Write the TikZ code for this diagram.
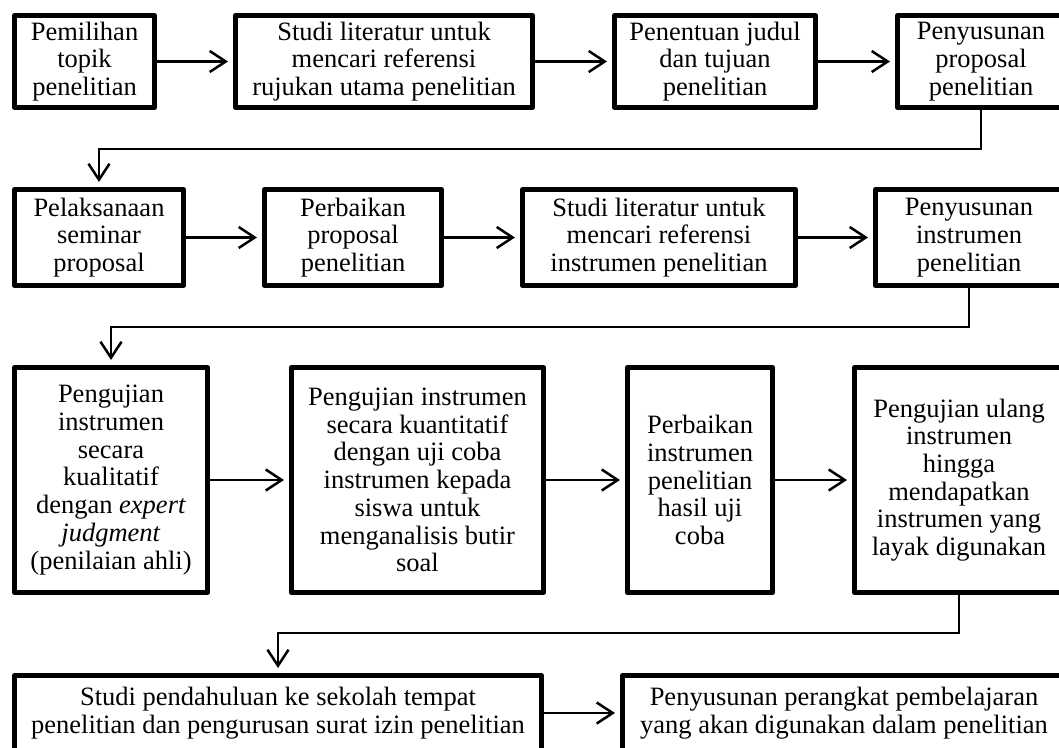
\documentclass[tikz,border=0pt]{standalone}
\usepackage{fontspec}
\setmainfont{Liberation Serif}
\usetikzlibrary{arrows.meta}
\tikzset{
	kotak/.style={draw, rectangle, line width=5pt, line join=round, inner sep=0pt, align=center, font=\fontsize{26.5}{27.7}\selectfont},
	panah/.style={line width=2.5pt, -{Straight Barb[length=16pt,width=21pt]}, shorten >=5pt}
}

\begin{document}
\begin{tikzpicture}[x=1pt,y=-1pt]
				\useasboundingbox (0,0) rectangle (1059,747);
				\clip (0,0) rectangle (1059,747);
				\fill[white] (0,0) rectangle (1059,747);
				\node[kotak, minimum width=140pt, minimum height=92pt] (b1) at (84.5,61.5) {Pemilihan\\topik\\penelitian};
				\node[kotak, minimum width=297pt, minimum height=92pt] (b2) at (384,61.5) {Studi literatur untuk\\mencari referensi\\rujukan utama penelitian};
				\node[kotak, minimum width=201pt, minimum height=92pt] (b3) at (715,61.5) {Penentuan judul\\dan tujuan\\penelitian};
				\node[kotak, minimum width=167pt, minimum height=92pt] (b4) at (981,61.5) {Penyusunan\\proposal\\penelitian};
				\node[kotak, minimum width=169pt, minimum height=96pt] (b5) at (99,237.5) {Pelaksanaan\\seminar\\proposal};
				\node[kotak, minimum width=177pt, minimum height=96pt] (b6) at (353,237.5) {Perbaikan\\proposal\\penelitian};
				\node[kotak, minimum width=273pt, minimum height=96pt] (b7) at (659,237.5) {Studi literatur untuk\\mencari referensi\\instrumen penelitian};
				\node[kotak, minimum width=187pt, minimum height=96pt] (b8) at (969,237.5) {Penyusunan\\instrumen\\penelitian};
				\node[kotak, minimum width=193pt, minimum height=225pt] (b9) at (111,480) {Pengujian\\instrumen\\secara\\kualitatif\\dengan \textit{expert}\\\textit{judgment}\\(penilaian ahli)};
				\node[kotak, minimum width=252pt, minimum height=225pt] (b10) at (417.5,480) {Pengujian instrumen\\secara kuantitatif\\dengan uji coba\\instrumen kepada\\siswa untuk\\menganalisis butir\\soal};
				\node[kotak, minimum width=145pt, minimum height=225pt] (b11) at (700,480) {Perbaikan\\instrumen\\penelitian\\hasil uji\\coba};
				\node[kotak, minimum width=209pt, minimum height=225pt] (b12) at (959,480) {Pengujian ulang\\instrumen\\hingga\\mendapatkan\\instrumen yang\\layak digunakan};
				\node[kotak, minimum width=527pt, minimum height=75pt] (b13) at (278,713) {Studi pendahuluan ke sekolah tempat\\penelitian dan pengurusan surat izin penelitian};
				\node[kotak, minimum width=443pt, minimum height=75pt] (b14) at (844,713) {Penyusunan perangkat pembelajaran\\yang akan digunakan dalam penelitian};
				\coordinate (k1) at (0,149);
				\coordinate (k2) at (0,327);
				\coordinate (k3) at (0,633);
				\draw[panah] (b1) -- (b2);
				\draw[panah] (b2) -- (b3);
				\draw[panah] (b3) -- (b4);
				\draw[panah] (b4.south) -- (b4.south |- k1) -| (b5.north);
				\draw[panah] (b5) -- (b6);
				\draw[panah] (b6) -- (b7);
				\draw[panah] (b7) -- (b8);
				\draw[panah] (b8.south) -- (b8.south |- k2) -| (b9.north);
				\draw[panah] (b9) -- (b10);
				\draw[panah] (b10) -- (b11);
				\draw[panah] (b11) -- (b12);
				\draw[panah] (b12.south) -- (b12.south |- k3) -| (b13.north);
				\draw[panah] (b13) -- (b14);
			\end{tikzpicture}
\end{document}
